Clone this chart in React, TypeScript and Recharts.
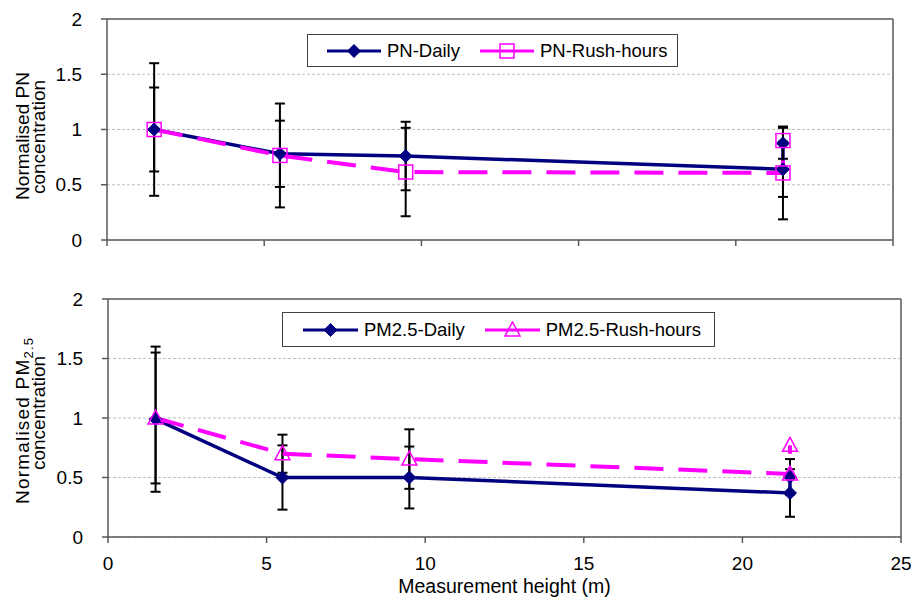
import {
  LineChart,
  Line,
  XAxis,
  YAxis,
  CartesianGrid,
  ErrorBar,
  ReferenceLine,
  Legend,
} from "recharts";

const FONT = "'Liberation Sans', Arial, sans-serif";
const NAVY = "#000080";
const MAGENTA = "#ff00ff";
const AXIS = "#595959";

// measurement heights (m); two readings share the 21.5 m position
const pnHeights = [1.5, 5.5, 9.5, 21.5, 21.5];
const pnDaily = [1.0, 0.78, 0.76, 0.64, 0.875];
const pnDailyErr = [0.6, 0.3, 0.31, 0.25, 0.14];
const pnRush = [1.0, 0.765, 0.615, 0.607, 0.9];
const pnRushErr = [0.38, 0.47, 0.4, 0.42, null];

const pmHeights = [1.5, 5.5, 9.5, 21.5, 21.5];
const pmDaily = [0.99, 0.5, 0.5, 0.37, 0.505];
const pmDailyErr = [0.61, 0.27, 0.26, 0.2, 0.15];
const pmRush = [1.0, 0.7, 0.655, 0.53, 0.77];
const pmRushErr = [0.55, 0.16, 0.25, null, null];

const xTicks = [0, 5, 10, 15, 20, 25];
const yTicks = [0, 0.5, 1, 1.5, 2];

function buildRows(
  heights: number[],
  daily: number[],
  dailyErr: (number | null)[],
  rush: number[],
  rushErr: (number | null)[]
) {
  return heights.map((h, i) => ({
    h,
    daily: daily[i],
    dailyErr: dailyErr[i],
    rush: rush[i],
    rushErr: rushErr[i],
  }));
}

const pnRows = buildRows(pnHeights, pnDaily, pnDailyErr, pnRush, pnRushErr);
const pmRows = buildRows(pmHeights, pmDaily, pmDailyErr, pmRush, pmRushErr);

type Shape = "diamond" | "square" | "triangle";

function marker(shape: Shape, cx: number, cy: number, key?: string) {
  if (shape === "diamond") {
    const r = 6.5;
    return (
      <path
        key={key}
        d={`M${cx},${cy - r}L${cx + r},${cy}L${cx},${cy + r}L${cx - r},${cy}Z`}
        fill={NAVY}
        stroke={NAVY}
      />
    );
  }
  if (shape === "square") {
    return (
      <rect
        key={key}
        x={cx - 7}
        y={cy - 7}
        width={14}
        height={14}
        fill="none"
        stroke={MAGENTA}
        strokeWidth={1.5}
      />
    );
  }
  return (
    <path
      key={key}
      d={`M${cx},${cy - 8}L${cx + 7.5},${cy + 6}L${cx - 7.5},${cy + 6}Z`}
      fill="none"
      stroke={MAGENTA}
      strokeWidth={1.5}
    />
  );
}

function dotOf(shape: Shape) {
  return (p: any) => marker(shape, p.cx, p.cy, `${shape}-${p.index}`);
}

interface LegendItem {
  name: string;
  color: string;
  shape: Shape;
}

function LegendBox({
  items,
  height,
  padL,
  padR,
  icon,
}: {
  items: LegendItem[];
  height: number;
  padL: number;
  padR: number;
  icon: number;
}) {
  return (
    <div
      style={{
        display: "inline-flex",
        alignItems: "center",
        height,
        boxSizing: "border-box",
        border: "1.5px solid #404040",
        background: "#fff",
        padding: `0 ${padR}px 0 ${padL}px`,
        fontFamily: FONT,
        fontSize: 18.5,
        color: "#000",
        whiteSpace: "nowrap",
      }}
    >
      {items.map((it, i) => (
        <div
          key={it.name}
          style={{ display: "flex", alignItems: "center", marginLeft: i ? 20 : 0 }}
        >
          <svg width={icon} height={18} style={{ display: "block" }}>
            <line x1={0} y1={9} x2={icon} y2={9} stroke={it.color} strokeWidth={3} />
            {marker(it.shape, icon / 2, 9)}
          </svg>
          <span style={{ marginLeft: 6 }}>{it.name}</span>
        </div>
      ))}
    </div>
  );
}

function YTitle({
  cy1,
  cy2,
  main,
  sub,
  len,
}: {
  cy1: number;
  cy2: number;
  main: string;
  sub?: string;
  len?: number;
}) {
  return (
    <g fontFamily={FONT} fontSize={19} fill="#000">
      <text
        x={28.5}
        y={cy1}
        textAnchor="middle"
        transform={`rotate(-90, 28.5, ${cy1})`}
        textLength={len}
        lengthAdjust={len ? "spacing" : undefined}
      >
        <tspan>{main}</tspan>
        {sub && (
          <tspan fontSize={13} dy={4}>
            {sub}
          </tspan>
        )}
      </text>
      <text x={45} y={cy2} textAnchor="middle" transform={`rotate(-90, 45, ${cy2})`}>
        concentration
      </text>
    </g>
  );
}

const tickStyle = { fontSize: 19, fill: "#000", fontFamily: FONT };

export default function App() {
  return (
    <div
      style={{
        position: "absolute",
        left: 0,
        top: 0,
        width: 914,
        height: 599,
        background: "#fff",
      }}
    >
      <div style={{ position: "absolute", left: 0, top: 0 }}>
        <LineChart
          width={914}
          height={260}
          data={pnRows}
          margin={{ top: 19, right: 21, bottom: 0, left: 0 }}
        >
          <CartesianGrid
            horizontal
            vertical={false}
            stroke="#c0c0c0"
            strokeDasharray="3 2"
          />
          <XAxis
            type="number"
            dataKey="h"
            domain={[0, 25]}
            ticks={xTicks}
            height={20}
            tickFormatter={() => ""}
            tickSize={6}
            axisLine={{ stroke: AXIS, strokeWidth: 1.5 }}
            tickLine={{ stroke: AXIS, strokeWidth: 1.5 }}
          />
          <YAxis
            type="number"
            domain={[0, 2]}
            ticks={yTicks}
            width={107}
            tick={tickStyle}
            tickSize={6}
            tickMargin={19}
            axisLine={{ stroke: AXIS, strokeWidth: 1.5 }}
            tickLine={{ stroke: AXIS, strokeWidth: 1.5 }}
            label={<YTitle cy1={136} cy2={137} main="Normalised PN" />}
          />
          <ReferenceLine y={2} stroke="#808080" strokeWidth={2} />
          <ReferenceLine x={25} stroke="#808080" strokeWidth={2} />
          <Legend
            verticalAlign="middle"
            align="center"
            wrapperStyle={{ left: 307, top: 34, width: "auto" }}
            content={() => (
              <LegendBox
                height={33}
                padL={19}
                padR={10}
                icon={54}
                items={[
                  { name: "PN-Daily", color: NAVY, shape: "diamond" },
                  { name: "PN-Rush-hours", color: MAGENTA, shape: "square" },
                ]}
              />
            )}
          />
          <Line
            dataKey="daily"
            name="PN-Daily"
            stroke={NAVY}
            strokeWidth={3.5}
            dot={dotOf("diamond")}
            activeDot={false}
            isAnimationActive={false}
          >
            <ErrorBar
              dataKey="dailyErr"
              direction="y"
              width={5}
              stroke="#000"
              strokeWidth={2}
              isAnimationActive={false}
            />
          </Line>
          <Line
            dataKey="rush"
            name="PN-Rush-hours"
            stroke={MAGENTA}
            strokeWidth={4}
            strokeDasharray="29 15"
            dot={dotOf("square")}
            activeDot={false}
            isAnimationActive={false}
          >
            <ErrorBar
              dataKey="rushErr"
              direction="y"
              width={5}
              stroke="#000"
              strokeWidth={2}
              isAnimationActive={false}
            />
          </Line>
        </LineChart>
      </div>

      <div style={{ position: "absolute", left: 0, top: 280 }}>
        <LineChart
          width={914}
          height={319}
          data={pmRows}
          margin={{ top: 19, right: 13, bottom: 0, left: 0 }}
        >
          <CartesianGrid
            horizontal
            vertical={false}
            stroke="#c0c0c0"
            strokeDasharray="3 2"
          />
          <XAxis
            type="number"
            dataKey="h"
            domain={[0, 25]}
            ticks={xTicks}
            height={62}
            tick={tickStyle}
            tickSize={6}
            tickMargin={14}
            axisLine={{ stroke: AXIS, strokeWidth: 1.5 }}
            tickLine={{ stroke: AXIS, strokeWidth: 1.5 }}
            label={{
              value: "Measurement height (m)",
              position: "insideBottom",
              offset: 6,
              fill: "#000",
              fontSize: 19.5,
              fontFamily: FONT,
            }}
          />
          <YAxis
            type="number"
            domain={[0, 2]}
            ticks={yTicks}
            width={108}
            tick={tickStyle}
            tickSize={6}
            tickMargin={19}
            axisLine={{ stroke: AXIS, strokeWidth: 1.5 }}
            tickLine={{ stroke: AXIS, strokeWidth: 1.5 }}
            label={
              <YTitle cy1={141} cy2={133} main="Normalised PM" sub="2.5" len={166} />
            }
          />
          <ReferenceLine y={2} stroke="#808080" strokeWidth={2} />
          <ReferenceLine x={25} stroke="#808080" strokeWidth={2} />
          <Legend
            verticalAlign="middle"
            align="center"
            wrapperStyle={{ left: 282, top: 32, width: "auto" }}
            content={() => (
              <LegendBox
                height={35}
                padL={20}
                padR={13}
                icon={55}
                items={[
                  { name: "PM2.5-Daily", color: NAVY, shape: "diamond" },
                  { name: "PM2.5-Rush-hours", color: MAGENTA, shape: "triangle" },
                ]}
              />
            )}
          />
          <Line
            dataKey="daily"
            name="PM2.5-Daily"
            stroke={NAVY}
            strokeWidth={3.5}
            dot={dotOf("diamond")}
            activeDot={false}
            isAnimationActive={false}
          >
            <ErrorBar
              dataKey="dailyErr"
              direction="y"
              width={5}
              stroke="#000"
              strokeWidth={2}
              isAnimationActive={false}
            />
          </Line>
          <Line
            dataKey="rush"
            name="PM2.5-Rush-hours"
            stroke={MAGENTA}
            strokeWidth={4}
            strokeDasharray="29 15"
            dot={dotOf("triangle")}
            activeDot={false}
            isAnimationActive={false}
          >
            <ErrorBar
              dataKey="rushErr"
              direction="y"
              width={5}
              stroke="#000"
              strokeWidth={2}
              isAnimationActive={false}
            />
          </Line>
        </LineChart>
      </div>
    </div>
  );
}
